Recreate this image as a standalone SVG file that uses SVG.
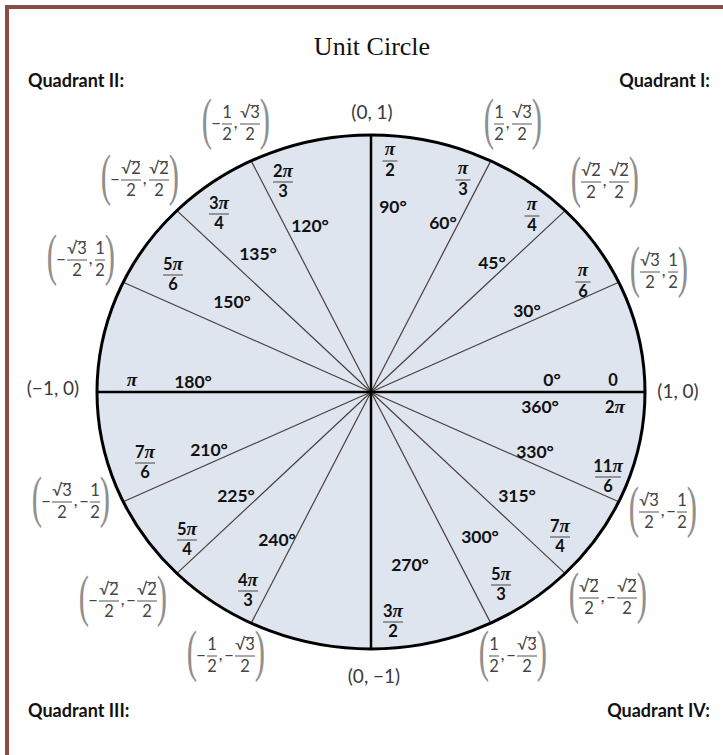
<svg xmlns="http://www.w3.org/2000/svg" width="723" height="755" viewBox="0 0 723 755">
<style>
.ttl{font-family:"Liberation Serif",serif;font-size:26px;fill:#111;text-anchor:middle}
.q{font-family:Lato,"Liberation Sans",sans-serif;font-weight:bold;font-size:18px;fill:#111}
.xy{font-family:Lato,"Liberation Sans",sans-serif;font-size:19px;fill:#3a3a3a;text-anchor:middle}
.pr{font-family:"Liberation Serif",serif;font-size:56px;fill:#8f8f8f;text-anchor:middle}
.cn{font-family:Lato,"DejaVu Sans",sans-serif;font-size:16.5px;fill:#444;text-anchor:middle}
.cb{stroke:#555;stroke-width:1}
.d{font-family:Lato,"Liberation Sans",sans-serif;font-weight:bold;font-size:17.5px;fill:#111;text-anchor:middle}
.pn{font-family:Lato,"Liberation Sans",sans-serif;font-weight:bold;font-size:16.5px;fill:#111;text-anchor:middle}
.p{font-family:"Liberation Serif",serif;font-style:italic;font-weight:bold;font-size:19px}
.fb{stroke:#7a7a7a;stroke-width:1.5}
.sp{stroke:#4a3f3f;stroke-width:1.2}
.ax{stroke:#000;stroke-width:2.5}
</style>
<rect width="723" height="755" fill="#fff"/>
<rect id="frame" x="7" y="7" width="800" height="800" fill="none" stroke="#8b4a4a" stroke-width="4"/>
<text id="title" class="ttl" x="372" y="55">Unit Circle</text>
<g id="quadrants">
<text class="q" x="28" y="87">Quadrant II:</text>
<text class="q" x="710" y="87" text-anchor="end">Quadrant I:</text>
<text class="q" x="28" y="717">Quadrant III:</text>
<text class="q" x="710" y="717" text-anchor="end">Quadrant IV:</text>
</g>
<g id="circle">
<ellipse cx="371" cy="392" rx="274" ry="257" fill="#dee5ef"/>
</g>
<g id="connectors">
<line class="sp" x1="371" y1="392" x2="618.8" y2="282.2"/>
<line class="sp" x1="371" y1="392" x2="565.1" y2="210.6"/>
<line class="sp" x1="371" y1="392" x2="490.8" y2="160.9"/>
<line class="sp" x1="371" y1="392" x2="251.2" y2="160.9"/>
<line class="sp" x1="371" y1="392" x2="176.9" y2="210.6"/>
<line class="sp" x1="371" y1="392" x2="123.2" y2="282.2"/>
<line class="sp" x1="371" y1="392" x2="123.2" y2="501.8"/>
<line class="sp" x1="371" y1="392" x2="176.9" y2="573.4"/>
<line class="sp" x1="371" y1="392" x2="251.2" y2="623.1"/>
<line class="sp" x1="371" y1="392" x2="490.8" y2="623.1"/>
<line class="sp" x1="371" y1="392" x2="565.1" y2="573.4"/>
<line class="sp" x1="371" y1="392" x2="618.8" y2="501.8"/>
<line class="ax" x1="97" y1="392" x2="645" y2="392"/>
<line class="ax" x1="371" y1="135" x2="371" y2="649"/>
</g>
<ellipse cx="371" cy="392" rx="274" ry="257" fill="none" stroke="#000" stroke-width="3"/>

<g id="degrees">
<text class="d" x="393" y="213">90°</text>
<text class="d" x="443" y="229">60°</text>
<text class="d" x="310" y="232">120°</text>
<text class="d" x="258" y="260">135°</text>
<text class="d" x="492" y="269">45°</text>
<text class="d" x="527" y="317">30°</text>
<text class="d" x="232" y="308">150°</text>
<text class="d" x="193" y="388">180°</text>
<text class="d" x="552" y="386">0°</text>
<text class="d" x="540" y="413">360°</text>
<text class="d" x="209" y="456">210°</text>
<text class="d" x="535" y="458">330°</text>
<text class="d" x="236" y="502">225°</text>
<text class="d" x="517" y="502">315°</text>
<text class="d" x="277" y="546">240°</text>
<text class="d" x="480" y="543">300°</text>
<text class="d" x="410" y="571">270°</text>
</g>

<g id="radians">
<g transform="translate(390,161)"><text class="pn p" x="0" y="-6">π</text><line class="fb" x1="-7.5" x2="7.5" y1="0" y2="0"/><text class="pn" x="0" y="15">2</text></g>
<g transform="translate(463,180)"><text class="pn p" x="0" y="-6">π</text><line class="fb" x1="-7.5" x2="7.5" y1="0" y2="0"/><text class="pn" x="0" y="15">3</text></g>
<g transform="translate(532,216)"><text class="pn p" x="0" y="-6">π</text><line class="fb" x1="-7.5" x2="7.5" y1="0" y2="0"/><text class="pn" x="0" y="15">4</text></g>
<g transform="translate(583,282)"><text class="pn p" x="0" y="-6">π</text><line class="fb" x1="-7.5" x2="7.5" y1="0" y2="0"/><text class="pn" x="0" y="15">6</text></g>
<g transform="translate(283,182)"><text class="pn" x="0" y="-5">2<tspan class="p">π</tspan></text><line class="fb" x1="-10" x2="10" y1="0" y2="0"/><text class="pn" x="0" y="15">3</text></g>
<g transform="translate(219,214)"><text class="pn" x="0" y="-5">3<tspan class="p">π</tspan></text><line class="fb" x1="-10" x2="10" y1="0" y2="0"/><text class="pn" x="0" y="15">4</text></g>
<g transform="translate(173,275)"><text class="pn" x="0" y="-5">5<tspan class="p">π</tspan></text><line class="fb" x1="-10" x2="10" y1="0" y2="0"/><text class="pn" x="0" y="15">6</text></g>
<g transform="translate(145,463)"><text class="pn" x="0" y="-5">7<tspan class="p">π</tspan></text><line class="fb" x1="-10" x2="10" y1="0" y2="0"/><text class="pn" x="0" y="15">6</text></g>
<g transform="translate(608,477)"><text class="pn" x="0" y="-5">11<tspan class="p">π</tspan></text><line class="fb" x1="-13" x2="13" y1="0" y2="0"/><text class="pn" x="0" y="15">6</text></g>
<g transform="translate(187,540)"><text class="pn" x="0" y="-5">5<tspan class="p">π</tspan></text><line class="fb" x1="-10" x2="10" y1="0" y2="0"/><text class="pn" x="0" y="15">4</text></g>
<g transform="translate(560,537)"><text class="pn" x="0" y="-5">7<tspan class="p">π</tspan></text><line class="fb" x1="-10" x2="10" y1="0" y2="0"/><text class="pn" x="0" y="15">4</text></g>
<g transform="translate(248,591)"><text class="pn" x="0" y="-5">4<tspan class="p">π</tspan></text><line class="fb" x1="-10" x2="10" y1="0" y2="0"/><text class="pn" x="0" y="15">3</text></g>
<g transform="translate(393,622)"><text class="pn" x="0" y="-5">3<tspan class="p">π</tspan></text><line class="fb" x1="-10" x2="10" y1="0" y2="0"/><text class="pn" x="0" y="15">2</text></g>
<g transform="translate(501,585)"><text class="pn" x="0" y="-5">5<tspan class="p">π</tspan></text><line class="fb" x1="-10" x2="10" y1="0" y2="0"/><text class="pn" x="0" y="15">3</text></g>
<text class="pn p" x="132" y="386">π</text>
<text class="pn" x="613" y="386">0</text>
<text class="pn" x="615" y="413">2<tspan class="p">π</tspan></text>
</g>

<g id="axis-points">
<text class="xy" x="372" y="119">(0, 1)</text>
<text class="xy" x="374" y="683">(0, −1)</text>
<text class="xy" x="53" y="395">(−1, 0)</text>
<text class="xy" x="678" y="398">(1, 0)</text>
</g>

<g id="pt-60" transform="translate(513,124)">
<text class="pr" transform="translate(-24,14) scale(0.55,1)">(</text>
<text class="cn" x="-14" y="-6">1</text><line class="cb" x1="-19" x2="-9" y1="0" y2="0"/><text class="cn" x="-14" y="15.5">2</text>
<text class="cn" x="-5.5" y="4">,</text>
<text class="cn" x="9" y="-6">√3</text><line class="cb" x1="8.5" x2="18" y1="-18.5" y2="-18.5"/><line class="cb" x1="-1" x2="19" y1="0" y2="0"/><text class="cn" x="9" y="15.5">2</text>
<text class="pr" transform="translate(24,14) scale(0.55,1)">)</text>
</g>
<g id="pt-45" transform="translate(605,182)">
<text class="pr" transform="translate(-29,14) scale(0.55,1)">(</text>
<text class="cn" x="-14" y="-6">√2</text><line class="cb" x1="-14.5" x2="-5" y1="-18.5" y2="-18.5"/><line class="cb" x1="-24" x2="-4" y1="0" y2="0"/><text class="cn" x="-14" y="15.5">2</text>
<text class="cn" x="-0.5" y="4">,</text>
<text class="cn" x="14" y="-6">√2</text><line class="cb" x1="13.5" x2="23" y1="-18.5" y2="-18.5"/><line class="cb" x1="4" x2="24" y1="0" y2="0"/><text class="cn" x="14" y="15.5">2</text>
<text class="pr" transform="translate(29,14) scale(0.55,1)">)</text>
</g>
<g id="pt-30" transform="translate(659,272)">
<text class="pr" transform="translate(-24,14) scale(0.55,1)">(</text>
<text class="cn" x="-9" y="-6">√3</text><line class="cb" x1="-9.5" x2="0" y1="-18.5" y2="-18.5"/><line class="cb" x1="-19" x2="1" y1="0" y2="0"/><text class="cn" x="-9" y="15.5">2</text>
<text class="cn" x="4.5" y="4">,</text>
<text class="cn" x="14" y="-6">1</text><line class="cb" x1="9" x2="19" y1="0" y2="0"/><text class="cn" x="14" y="15.5">2</text>
<text class="pr" transform="translate(24,14) scale(0.55,1)">)</text>
</g>
<g id="pt-120" transform="translate(236,124)">
<text class="pr" transform="translate(-29,14) scale(0.55,1)">(</text>
<text class="cn" x="-20" y="5">−</text>
<text class="cn" x="-9" y="-6">1</text><line class="cb" x1="-14" x2="-4" y1="0" y2="0"/><text class="cn" x="-9" y="15.5">2</text>
<text class="cn" x="-0.5" y="4">,</text>
<text class="cn" x="14" y="-6">√3</text><line class="cb" x1="13.5" x2="23" y1="-18.5" y2="-18.5"/><line class="cb" x1="4" x2="24" y1="0" y2="0"/><text class="cn" x="14" y="15.5">2</text>
<text class="pr" transform="translate(29,14) scale(0.55,1)">)</text>
</g>
<g id="pt-135" transform="translate(140,180)">
<text class="pr" transform="translate(-34,14) scale(0.55,1)">(</text>
<text class="cn" x="-25" y="5">−</text>
<text class="cn" x="-9" y="-6">√2</text><line class="cb" x1="-9.5" x2="0" y1="-18.5" y2="-18.5"/><line class="cb" x1="-19" x2="1" y1="0" y2="0"/><text class="cn" x="-9" y="15.5">2</text>
<text class="cn" x="4.5" y="4">,</text>
<text class="cn" x="19" y="-6">√2</text><line class="cb" x1="18.5" x2="28" y1="-18.5" y2="-18.5"/><line class="cb" x1="9" x2="29" y1="0" y2="0"/><text class="cn" x="19" y="15.5">2</text>
<text class="pr" transform="translate(34,14) scale(0.55,1)">)</text>
</g>
<g id="pt-150" transform="translate(81,260)">
<text class="pr" transform="translate(-29,14) scale(0.55,1)">(</text>
<text class="cn" x="-20" y="5">−</text>
<text class="cn" x="-4" y="-6">√3</text><line class="cb" x1="-4.5" x2="5" y1="-18.5" y2="-18.5"/><line class="cb" x1="-14" x2="6" y1="0" y2="0"/><text class="cn" x="-4" y="15.5">2</text>
<text class="cn" x="9.5" y="4">,</text>
<text class="cn" x="19" y="-6">1</text><line class="cb" x1="14" x2="24" y1="0" y2="0"/><text class="cn" x="19" y="15.5">2</text>
<text class="pr" transform="translate(29,14) scale(0.55,1)">)</text>
</g>
<g id="pt-210" transform="translate(71,502)">
<text class="pr" transform="translate(-34,14) scale(0.55,1)">(</text>
<text class="cn" x="-25" y="5">−</text>
<text class="cn" x="-9" y="-6">√3</text><line class="cb" x1="-9.5" x2="0" y1="-18.5" y2="-18.5"/><line class="cb" x1="-19" x2="1" y1="0" y2="0"/><text class="cn" x="-9" y="15.5">2</text>
<text class="cn" x="4.5" y="4">,</text>
<text class="cn" x="13" y="5">−</text>
<text class="cn" x="24" y="-6">1</text><line class="cb" x1="19" x2="29" y1="0" y2="0"/><text class="cn" x="24" y="15.5">2</text>
<text class="pr" transform="translate(34,14) scale(0.55,1)">)</text>
</g>
<g id="pt-225" transform="translate(123,601)">
<text class="pr" transform="translate(-39,14) scale(0.55,1)">(</text>
<text class="cn" x="-30" y="5">−</text>
<text class="cn" x="-14" y="-6">√2</text><line class="cb" x1="-14.5" x2="-5" y1="-18.5" y2="-18.5"/><line class="cb" x1="-24" x2="-4" y1="0" y2="0"/><text class="cn" x="-14" y="15.5">2</text>
<text class="cn" x="-0.5" y="4">,</text>
<text class="cn" x="8" y="5">−</text>
<text class="cn" x="24" y="-6">√2</text><line class="cb" x1="23.5" x2="33" y1="-18.5" y2="-18.5"/><line class="cb" x1="14" x2="34" y1="0" y2="0"/><text class="cn" x="24" y="15.5">2</text>
<text class="pr" transform="translate(39,14) scale(0.55,1)">)</text>
</g>
<g id="pt-240" transform="translate(226,656)">
<text class="pr" transform="translate(-34,14) scale(0.55,1)">(</text>
<text class="cn" x="-25" y="5">−</text>
<text class="cn" x="-14" y="-6">1</text><line class="cb" x1="-19" x2="-9" y1="0" y2="0"/><text class="cn" x="-14" y="15.5">2</text>
<text class="cn" x="-5.5" y="4">,</text>
<text class="cn" x="3" y="5">−</text>
<text class="cn" x="19" y="-6">√3</text><line class="cb" x1="18.5" x2="28" y1="-18.5" y2="-18.5"/><line class="cb" x1="9" x2="29" y1="0" y2="0"/><text class="cn" x="19" y="15.5">2</text>
<text class="pr" transform="translate(34,14) scale(0.55,1)">)</text>
</g>
<g id="pt-300" transform="translate(513,656)">
<text class="pr" transform="translate(-29,14) scale(0.55,1)">(</text>
<text class="cn" x="-19" y="-6">1</text><line class="cb" x1="-24" x2="-14" y1="0" y2="0"/><text class="cn" x="-19" y="15.5">2</text>
<text class="cn" x="-10.5" y="4">,</text>
<text class="cn" x="-2" y="5">−</text>
<text class="cn" x="14" y="-6">√3</text><line class="cb" x1="13.5" x2="23" y1="-18.5" y2="-18.5"/><line class="cb" x1="4" x2="24" y1="0" y2="0"/><text class="cn" x="14" y="15.5">2</text>
<text class="pr" transform="translate(29,14) scale(0.55,1)">)</text>
</g>
<g id="pt-315" transform="translate(608,598)">
<text class="pr" transform="translate(-34,14) scale(0.55,1)">(</text>
<text class="cn" x="-19" y="-6">√2</text><line class="cb" x1="-19.5" x2="-10" y1="-18.5" y2="-18.5"/><line class="cb" x1="-29" x2="-9" y1="0" y2="0"/><text class="cn" x="-19" y="15.5">2</text>
<text class="cn" x="-5.5" y="4">,</text>
<text class="cn" x="3" y="5">−</text>
<text class="cn" x="19" y="-6">√2</text><line class="cb" x1="18.5" x2="28" y1="-18.5" y2="-18.5"/><line class="cb" x1="9" x2="29" y1="0" y2="0"/><text class="cn" x="19" y="15.5">2</text>
<text class="pr" transform="translate(34,14) scale(0.55,1)">)</text>
</g>
<g id="pt-330" transform="translate(663,512)">
<text class="pr" transform="translate(-29,14) scale(0.55,1)">(</text>
<text class="cn" x="-14" y="-6">√3</text><line class="cb" x1="-14.5" x2="-5" y1="-18.5" y2="-18.5"/><line class="cb" x1="-24" x2="-4" y1="0" y2="0"/><text class="cn" x="-14" y="15.5">2</text>
<text class="cn" x="-0.5" y="4">,</text>
<text class="cn" x="8" y="5">−</text>
<text class="cn" x="19" y="-6">1</text><line class="cb" x1="14" x2="24" y1="0" y2="0"/><text class="cn" x="19" y="15.5">2</text>
<text class="pr" transform="translate(29,14) scale(0.55,1)">)</text>
</g>
</svg>
